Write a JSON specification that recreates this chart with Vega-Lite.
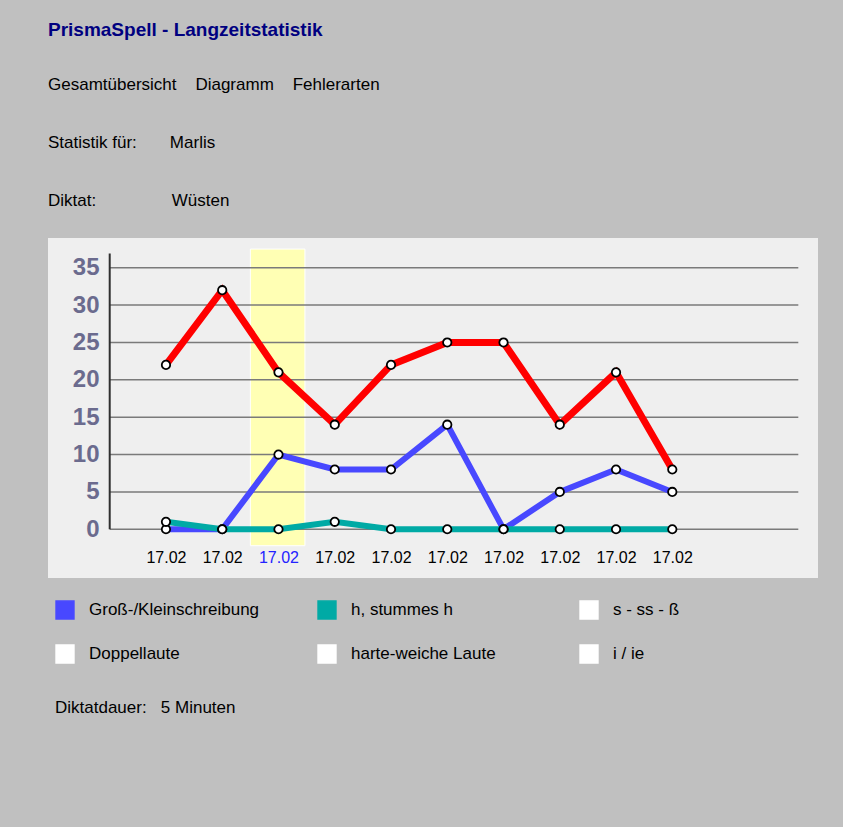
{
  "$schema": "https://vega.github.io/schema/vega-lite/v6.json",
  "width": 770,
  "height": 340,
  "autosize": {"type": "none"},
  "padding": {"left": 48, "top": 238, "right": 25, "bottom": 249},
  "background": "#c0c0c0",
  "view": {"fill": "#efefef", "stroke": null},
  "title": {
    "text": "PrismaSpell - Langzeitstatistik",
    "subtitle": ["Gesamtübersicht\u00a0\u00a0\u00a0\u00a0Diagramm\u00a0\u00a0\u00a0\u00a0Fehlerarten", "Statistik für:\u00a0\u00a0\u00a0\u00a0\u00a0\u00a0\u00a0Marlis", "Diktat:\u00a0\u00a0\u00a0\u00a0\u00a0\u00a0\u00a0\u00a0\u00a0\u00a0\u00a0\u00a0\u00a0\u00a0\u00a0\u00a0Wüsten"],
    "anchor": "start",
    "frame": "group",
    "font": "Liberation Sans",
    "fontSize": 19,
    "fontWeight": "bold",
    "color": "#000080",
    "subtitleFont": "Liberation Sans",
    "subtitleFontSize": 17,
    "subtitleColor": "#000000",
    "subtitleLineHeight": 58,
    "subtitlePadding": 37,
    "offset": 29
  },
  "datasets": {
    "fehler": [
      {"diktat": 1, "kategorie": "Gesamt", "anzahl": 22},
      {"diktat": 2, "kategorie": "Gesamt", "anzahl": 32},
      {"diktat": 3, "kategorie": "Gesamt", "anzahl": 21},
      {"diktat": 4, "kategorie": "Gesamt", "anzahl": 14},
      {"diktat": 5, "kategorie": "Gesamt", "anzahl": 22},
      {"diktat": 6, "kategorie": "Gesamt", "anzahl": 25},
      {"diktat": 7, "kategorie": "Gesamt", "anzahl": 25},
      {"diktat": 8, "kategorie": "Gesamt", "anzahl": 14},
      {"diktat": 9, "kategorie": "Gesamt", "anzahl": 21},
      {"diktat": 10, "kategorie": "Gesamt", "anzahl": 8},
      {"diktat": 1, "kategorie": "Groß-/Kleinschreibung", "anzahl": 0},
      {"diktat": 2, "kategorie": "Groß-/Kleinschreibung", "anzahl": 0},
      {"diktat": 3, "kategorie": "Groß-/Kleinschreibung", "anzahl": 10},
      {"diktat": 4, "kategorie": "Groß-/Kleinschreibung", "anzahl": 8},
      {"diktat": 5, "kategorie": "Groß-/Kleinschreibung", "anzahl": 8},
      {"diktat": 6, "kategorie": "Groß-/Kleinschreibung", "anzahl": 14},
      {"diktat": 7, "kategorie": "Groß-/Kleinschreibung", "anzahl": 0},
      {"diktat": 8, "kategorie": "Groß-/Kleinschreibung", "anzahl": 5},
      {"diktat": 9, "kategorie": "Groß-/Kleinschreibung", "anzahl": 8},
      {"diktat": 10, "kategorie": "Groß-/Kleinschreibung", "anzahl": 5},
      {"diktat": 1, "kategorie": "h, stummes h", "anzahl": 1},
      {"diktat": 2, "kategorie": "h, stummes h", "anzahl": 0},
      {"diktat": 3, "kategorie": "h, stummes h", "anzahl": 0},
      {"diktat": 4, "kategorie": "h, stummes h", "anzahl": 1},
      {"diktat": 5, "kategorie": "h, stummes h", "anzahl": 0},
      {"diktat": 6, "kategorie": "h, stummes h", "anzahl": 0},
      {"diktat": 7, "kategorie": "h, stummes h", "anzahl": 0},
      {"diktat": 8, "kategorie": "h, stummes h", "anzahl": 0},
      {"diktat": 9, "kategorie": "h, stummes h", "anzahl": 0},
      {"diktat": 10, "kategorie": "h, stummes h", "anzahl": 0}
    ],
    "gitter": [
      {"wert": 0}, {"wert": 5}, {"wert": 10}, {"wert": 15},
      {"wert": 20}, {"wert": 25}, {"wert": 30}, {"wert": 35}
    ]
  },
  "layer": [
    {
      "data": {"values": [{"auswahl": 3}]},
      "mark": {"type": "rect", "fill": "#ffffb4", "stroke": "#ffffff", "strokeWidth": 1},
      "encoding": {
        "x": {"datum": 2.5, "type": "quantitative"},
        "x2": {"datum": 3.47},
        "y": {"datum": -2.2, "type": "quantitative"},
        "y2": {"datum": 37.5}
      }
    },
    {
      "data": {"name": "gitter"},
      "mark": {"type": "rule", "color": "#7a7a7a", "strokeWidth": 1.5},
      "encoding": {
        "x": {"datum": 0, "type": "quantitative"},
        "x2": {"datum": 12.24},
        "y": {"field": "wert", "type": "quantitative"}
      }
    },
    {
      "data": {"values": [{"achse": "y"}]},
      "mark": {"type": "rule", "color": "#303030", "strokeWidth": 2},
      "encoding": {
        "x": {"datum": 0, "type": "quantitative"},
        "y": {"datum": 0, "type": "quantitative"},
        "y2": {"datum": 36.9}
      }
    },
    {
      "data": {"name": "fehler"},
      "transform": [{"filter": "datum.kategorie !== 'Gesamt'"}],
      "mark": {"type": "square", "size": 0, "stroke": "#000000", "strokeWidth": 1.5},
      "encoding": {
        "x": {"field": "diktat", "type": "quantitative"},
        "y": {"field": "anzahl", "type": "quantitative"},
        "fill": {
          "field": "kategorie", "type": "nominal",
          "scale": {
            "domain": ["Groß-/Kleinschreibung", "h, stummes h", "s - ss - ß", "Doppellaute", "harte-weiche Laute", "i / ie"],
            "range": ["#4848ff", "#00aaa5", "#ffffff", "#ffffff", "#ffffff", "#ffffff"]
          },
          "legend": {
            "orient": "bottom",
            "offset": 15,
            "padding": 7,
            "columns": 3,
            "gridAlign": "all",
            "columnPadding": 55,
            "rowPadding": 20,
            "symbolType": "square",
            "symbolSize": 320,
            "symbolStrokeWidth": 1.5,
            "symbolOpacity": 1,
            "symbolFillOpacity": 1,
            "labelFont": "Liberation Sans",
            "labelFontSize": 17,
            "labelColor": "#000000",
            "labelOffset": 14,
            "labelLimit": 320,
            "title": "Diktatdauer:\u00a0\u00a0\u00a05 Minuten",
            "titleOrient": "bottom",
            "titleAnchor": "start",
            "titleFont": "Liberation Sans",
            "titleFontSize": 17,
            "titleFontWeight": "normal",
            "titleColor": "#000000",
            "titleLimit": 500,
            "titlePadding": 34
          }
        }
      }
    },
    {
      "data": {"name": "fehler"},
      "transform": [{"filter": "datum.kategorie !== 'Gesamt'"}],
      "mark": {"type": "line", "strokeWidth": 6},
      "encoding": {
        "x": {
          "field": "diktat", "type": "quantitative",
          "scale": {"domain": [-1.097, 12.59], "nice": false, "zero": false},
          "axis": {
            "title": null,
            "values": [1, 2, 3, 4, 5, 6, 7, 8, 9, 10],
            "labelExpr": "'17.02'",
            "offset": -32,
            "domain": false,
            "ticks": false,
            "grid": false,
            "labelPadding": 3,
            "labelFont": "Liberation Sans",
            "labelFontSize": 16,
            "labelColor": {"condition": {"test": "datum.value == 3", "value": "#2323ff"}, "value": "#000000"}
          }
        },
        "y": {
          "field": "anzahl", "type": "quantitative",
          "scale": {"domain": [-6.52, 38.98], "nice": false, "zero": false},
          "axis": {
            "title": null,
            "values": [0, 5, 10, 15, 20, 25, 30, 35],
            "offset": -51,
            "domain": false,
            "ticks": false,
            "grid": false,
            "labelPadding": 0,
            "labelFont": "Liberation Sans",
            "labelFontSize": 24,
            "labelFontWeight": "bold",
            "labelColor": "#6b6b8e"
          }
        },
        "stroke": {
          "field": "kategorie", "type": "nominal",
          "scale": {
            "domain": ["Groß-/Kleinschreibung", "h, stummes h", "s - ss - ß", "Doppellaute", "harte-weiche Laute", "i / ie"],
            "range": ["#4848ff", "#00aaa5", "#ffffff", "#ffffff", "#ffffff", "#ffffff"]
          },
          "legend": null
        }
      }
    },
    {
      "data": {"name": "fehler"},
      "transform": [{"filter": "datum.kategorie === 'Gesamt'"}],
      "mark": {"type": "line", "color": "#ff0000", "strokeWidth": 7},
      "encoding": {
        "x": {"field": "diktat", "type": "quantitative"},
        "y": {"field": "anzahl", "type": "quantitative"}
      }
    },
    {
      "data": {"name": "fehler"},
      "mark": {"type": "point", "shape": "circle", "filled": true, "fill": "#ffffff", "stroke": "#000000", "strokeWidth": 1.8, "size": 70, "opacity": 1},
      "encoding": {
        "x": {"field": "diktat", "type": "quantitative"},
        "y": {"field": "anzahl", "type": "quantitative"}
      }
    }
  ]
}
